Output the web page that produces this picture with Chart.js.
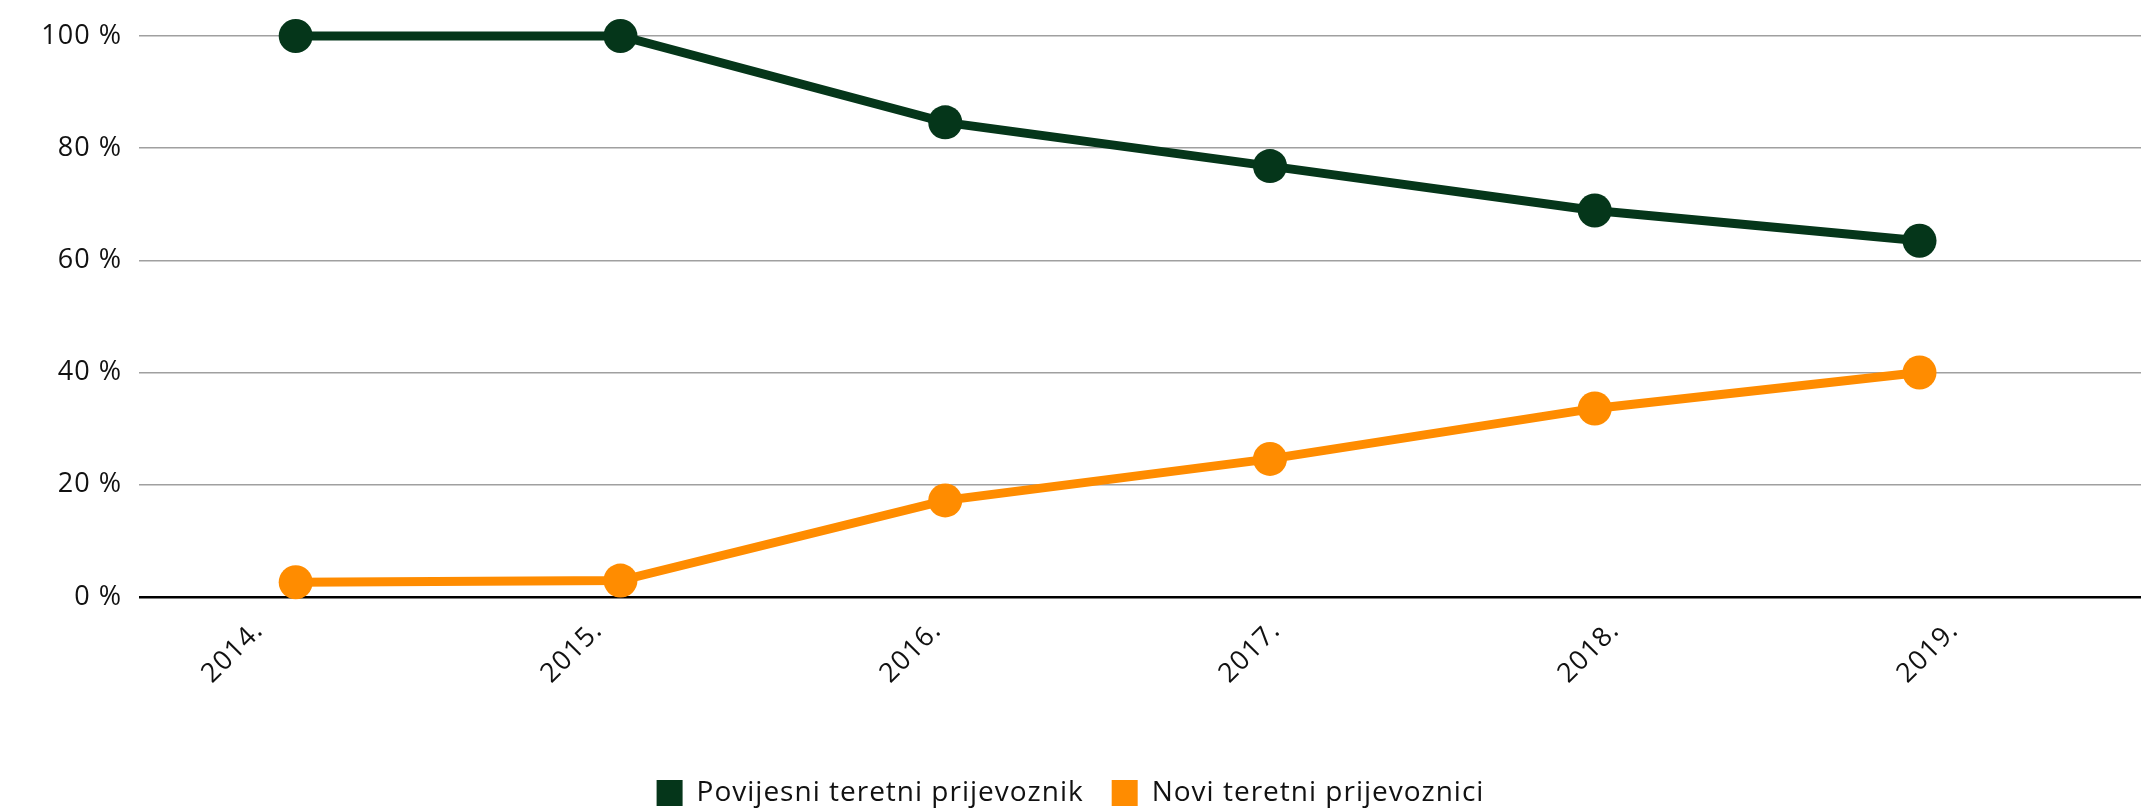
<!DOCTYPE html>
<html>
<head>
<meta charset="utf-8">
<script src="https://cdn.jsdelivr.net/npm/chart.js@4"></script>
<style>
  html, body { margin: 0; padding: 0; background: #fff; }
  #wrap { width: 2152px; height: 810px; }
</style>
</head>
<body>
<div id="wrap"><canvas id="lineChart" width="2152" height="810"></canvas></div>
<script>
const years = ['2014.', '2015.', '2016.', '2017.', '2018.', '2019.'];
const povijesni = [100, 100, 84.6, 76.8, 68.9, 63.5];
const novi = [2.6, 2.9, 17.2, 24.6, 33.6, 40];
const yTicks = [0, 20, 40, 60, 80, 100];

const FONT = "'Open Sans', 'Noto Sans', sans-serif";

function toPoints(vals) {
    return vals.map((v, i) => ({ x: i, y: v }));
}

// canvas letter spacing, the source font is wider than what we have
const spacing = {
    id: 'spacing',
    beforeUpdate: chart => { chart.ctx.letterSpacing = '1px'; }
};

function initLineChart() {
    const canvas = document.getElementById('lineChart');
    if (!canvas) return;
    new Chart(canvas.getContext('2d'), {
        type: 'line',
        plugins: [spacing],
        data: {
            datasets: [
                { label: 'Povijesni teretni prijevoznik', data: toPoints(povijesni), xAxisID: 'xp',
                  borderColor: '#05361a', backgroundColor: '#05361a', borderWidth: 9, clip: false,
                  pointRadius: 17, pointHoverRadius: 17, pointBorderWidth: 0, tension: 0 },
                { label: 'Novi teretni prijevoznici', data: toPoints(novi), xAxisID: 'xp',
                  borderColor: '#ff8c00', backgroundColor: '#ff8c00', borderWidth: 9, clip: false,
                  pointRadius: 17, pointHoverRadius: 17, pointBorderWidth: 0, tension: 0 }
            ]
        },
        options: {
            responsive: false,
            animation: false,
            layout: { autoPadding: false, padding: { top: 36, right: 11, bottom: -7, left: 0 } },
            plugins: {
                tooltip: { enabled: false },
                legend: {
                    position: 'bottom',
                    labels: {
                        color: '#111', boxWidth: 26, boxHeight: 26, padding: 28,
                        font: { family: FONT, size: 28 },
                        generateLabels: chart => Chart.defaults.plugins.legend.labels.generateLabels(chart)
                            .map(l => Object.assign(l, { lineWidth: 0 }))
                    }
                }
            },
            scales: {
                xp: {
                    type: 'linear', display: false, min: -0.4825, max: 5.682
                },
                x: {
                    type: 'linear', position: 'bottom', min: -0.448, max: 5.457,
                    afterBuildTicks: s => { s.ticks = years.map((_, i) => ({ value: i })); },
                    afterFit: s => { s.height += 43; s.paddingRight = 0; s.paddingLeft = 0; },
                    grid: { display: false, drawTicks: false },
                    border: { display: false },
                    ticks: {
                        color: '#111', minRotation: 45, maxRotation: 45, padding: 18, labelOffset: -32,
                        font: { family: FONT, size: 27 },
                        callback: v => years[v]
                    }
                },
                y: {
                    min: 0, max: 100,
                    afterBuildTicks: s => { s.ticks = yTicks.map(v => ({ value: v })); },
                    afterFit: s => { s.width = 139; },
                    border: { display: false },
                    grid: {
                        drawTicks: false,
                        color: c => c.tick && c.tick.value === 0 ? '#000' : '#a0a0a0',
                        lineWidth: c => c.tick && c.tick.value === 0 ? 2.5 : 1.5
                    },
                    ticks: {
                        color: '#111', padding: 17,
                        font: { family: FONT, size: 27 },
                        callback: v => v + ' %'
                    }
                }
            }
        }
    });
}

initLineChart();
</script>
</body>
</html>
